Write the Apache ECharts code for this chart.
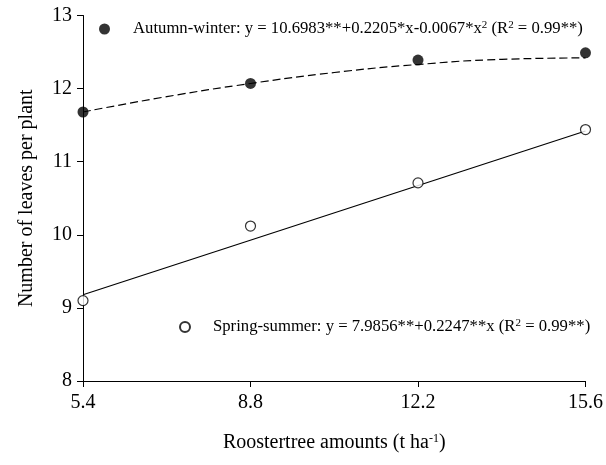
<!DOCTYPE html>
<html>
<head>
<meta charset="utf-8">
<script src="https://cdn.jsdelivr.net/npm/echarts@6/dist/echarts.min.js"></script>
<style>html,body{margin:0;padding:0;background:#fff}#c{width:606px;height:465px}</style>
</head>
<body>
<div id="c"></div>
<script>
// Data
var xValues = [5.4, 8.8, 12.2, 15.6];
var autumnWinter = [11.68, 12.07, 12.39, 12.49];
var springSummer = [9.10, 10.12, 10.71, 11.44];
// Fitted curves
var autumnFitX = [5.4, 7.1, 8.8, 10.5, 12.2, 13.9, 15.6];
var autumnFitY = [11.68, 11.89, 12.07, 12.22, 12.33, 12.40, 12.42];
var springFitX = [5.4, 15.6];
var springFitY = [9.18, 11.42];
var xTicks = [5.4, 8.8, 12.2, 15.6];
var yTicks = [8, 9, 10, 11, 12, 13];

function pairs(xs, ys) { return xs.map(function (x, i) { return [x, ys[i]]; }); }

var FONT = 'Liberation Serif';
var chart = echarts.init(document.getElementById('c'), null, {renderer: 'canvas'});
var supStyle = {fontSize: 11, fontFamily: FONT, color: '#000', verticalAlign: 'top', padding: [0, 0, 7, 0]};
var legText = {fontSize: 16.7, fontFamily: FONT, color: '#000', padding: [0, 0, 0, 18],
  rich: {sup: supStyle}};

chart.setOption({
  animation: false,
  backgroundColor: '#fff',
  grid: {left: 83, right: 20, top: 15.5, bottom: 84},
  legend: [
    {data: ['Autumn-winter'], left: 94, top: 15, itemWidth: 11, itemHeight: 11, icon: 'circle',
     formatter: function () { return 'Autumn-winter: y = 10.6983**+0.2205*x-0.0067*x{sup|2} (R{sup|2} = 0.99**)'; },
     textStyle: legText},
    {data: ['Spring-summer'], left: 174, top: 313, itemWidth: 10, itemHeight: 10, icon: 'circle',
     formatter: function () { return 'Spring-summer: y = 7.9856**+0.2247**x (R{sup|2} = 0.99**)'; },
     textStyle: legText}
  ],
  xAxis: {
    type: 'value', min: 5.4, max: 15.6, interval: 3.4,
    name: 'Roostertree amounts (t ha{sup|-1})', nameLocation: 'middle', nameGap: 52,
    nameTextStyle: {fontSize: 20, fontFamily: FONT, color: '#000',
      rich: {sup: {fontSize: 12, fontFamily: FONT, color: '#000', verticalAlign: 'top', padding: [0, 0, 8, 0]}}},
    axisLine: {show: true, lineStyle: {color: '#000', width: 1}},
    axisTick: {show: true, inside: false, length: 6, lineStyle: {color: '#000'}},
    axisLabel: {fontSize: 20, fontFamily: FONT, color: '#000', margin: 12,
      formatter: function (v) { return v.toFixed(1); }},
    splitLine: {show: false}
  },
  yAxis: {
    type: 'value', min: 8, max: 13, interval: 1,
    name: 'Number of leaves per plant', nameLocation: 'middle', nameGap: 46,
    nameTextStyle: {fontSize: 20, fontFamily: FONT, color: '#000'},
    axisLine: {show: true, lineStyle: {color: '#000', width: 1}},
    axisTick: {show: true, inside: false, length: 6, lineStyle: {color: '#000'}},
    axisLabel: {fontSize: 20, fontFamily: FONT, color: '#000', margin: 11},
    splitLine: {show: false}
  },
  series: [
    {name: 'Autumn-winter fit', type: 'line', data: pairs(autumnFitX, autumnFitY), smooth: true,
     showSymbol: false, symbol: 'none', lineStyle: {color: '#000', width: 1.2, type: [8, 4]}, z: 2},
    {name: 'Spring-summer fit', type: 'line', data: pairs(springFitX, springFitY),
     showSymbol: false, symbol: 'none', lineStyle: {color: '#000', width: 1.2}, z: 2},
    {name: 'Autumn-winter', type: 'scatter', data: pairs(xValues, autumnWinter), symbolSize: 11,
     itemStyle: {color: '#000'}, z: 3, clip: false},
    {name: 'Spring-summer', type: 'scatter', data: pairs(xValues, springSummer), symbolSize: 10,
     itemStyle: {color: '#fff', borderColor: '#000', borderWidth: 1.2}, z: 3, clip: false}
  ]
});
</script>
</body>
</html>
